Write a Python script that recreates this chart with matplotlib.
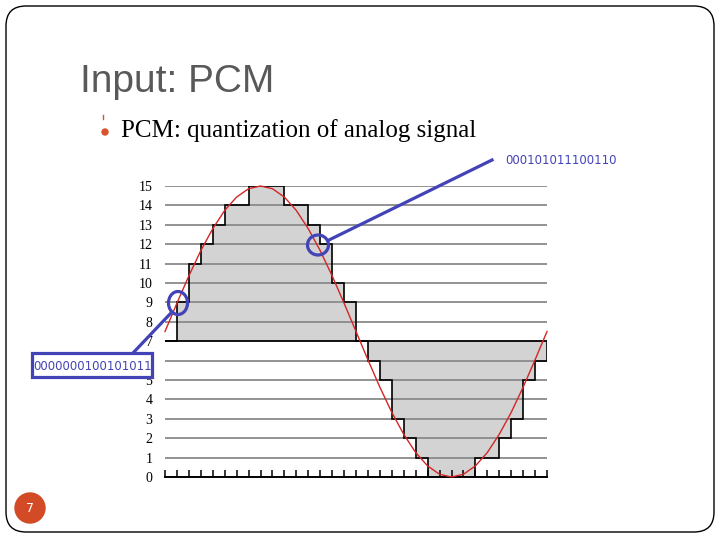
import numpy as np
import matplotlib.pyplot as plt
from matplotlib.patches import FancyBboxPatch, Circle, Ellipse, Rectangle
from matplotlib.lines import Line2D
from matplotlib.transforms import IdentityTransform

# quantization levels and sampled codes (one per sample interval)
levels = list(range(16))
codes = [7, 9, 11, 12, 13, 14, 14, 15, 15, 15, 14, 14, 13, 12, 10, 9,
         7, 6, 5, 3, 2, 1, 0, 0, 0, 0, 1, 1, 2, 3, 5, 6]
# analog signal read at each sample tick
analog = [7.5, 8.96, 10.37, 11.67, 12.8, 13.74, 14.43, 14.86, 15.0, 14.86,
          14.43, 13.74, 12.8, 11.67, 10.37, 8.96, 7.5, 6.04, 4.63, 3.33,
          2.2, 1.26, 0.57, 0.14, 0.0, 0.14, 0.57, 1.26, 2.2, 3.33, 4.63,
          6.04, 7.5]
code_a = "0000000100101011"
code_b = "000101011100110"
title = "Input: PCM"
subtitle = "PCM: quantization of analog signal"
slide_no = "7"

W, H = 720, 540
fig = plt.figure(figsize=(7.2, 5.4), dpi=100)
px = IdentityTransform()


def P(x, y):
    # image pixel coords (top-left origin) -> display coords
    return (x, H - y)


ax = fig.add_axes([165 / W, 63 / H, 382 / W, 291 / H])
edges = np.arange(len(codes) + 1)
ax.set_xlim(edges[0], edges[-1])
ax.set_ylim(0, 15)

ax.stairs(codes, edges, baseline=7, fill=True, color='#d3d3d3', zorder=1)
for lv in levels[1:]:
    ax.axhline(lv, color='black' if lv == 7 else '#8a8a8a', lw=1.3, zorder=2)
ax.stairs(codes, edges, baseline=7, color='black', lw=1.2, zorder=3)
ax.plot(np.arange(len(analog)), analog, color='#d42525', lw=1.0, zorder=4,
        clip_on=False)

for s in ['top', 'left', 'right']:
    ax.spines[s].set_visible(False)
ax.spines['bottom'].set_linewidth(1.4)
ax.set_xticks(edges)
ax.set_xticklabels([])
ax.tick_params(axis='x', direction='in', length=5, width=1.1)
ax.set_yticks(levels)
ax.set_yticklabels([str(v) for v in levels], fontfamily='Liberation Serif',
                   fontsize=10)
ax.tick_params(axis='y', length=0, pad=9)

# slide text
fig.text(80 / W, 1 - 82 / H, title, fontsize=28, color='#595959',
         family='Liberation Sans', va='center', ha='left')
fig.text(121 / W, 1 - 131 / H, subtitle, fontsize=18, color='black',
         family='Liberation Serif', va='center', ha='left')
fig.add_artist(Circle(P(105, 132), 3, transform=px, color='#d9532b'))
fig.add_artist(Line2D([103, 103], [H - 115, H - 119], transform=px,
                      color='#d9532b', lw=1))

# slide border and number
fig.add_artist(FancyBboxPatch(P(6, 532), 708, 526, transform=px,
                              boxstyle='round,pad=0,rounding_size=20',
                              fc='none', ec='black', lw=1))
fig.add_artist(Circle(P(30, 508), 15, transform=px, color='#d24a26'))
fig.text(30 / W, 1 - 508 / H, slide_no, color='white', fontsize=9,
         ha='center', va='center')

# blue callouts
blue = '#4343b8'
fig.add_artist(Ellipse(P(178, 303), 19, 23, transform=px, fc='none',
                       ec=blue, lw=2.3, zorder=5))
fig.add_artist(Ellipse(P(318, 245), 21, 20, transform=px, fc='none',
                       ec=blue, lw=2.3, zorder=5))
fig.add_artist(Line2D([170, 133], [H - 314, H - 353], transform=px,
                      color=blue, lw=2.3, zorder=5))
fig.add_artist(Line2D([329, 492], [H - 240, H - 160], transform=px,
                      color=blue, lw=2.3, zorder=5))
fig.add_artist(Rectangle(P(32, 377), 120, 24, transform=px, fc='white',
                         ec=blue, lw=2.3, zorder=5))
fig.text(33 / W, 1 - 366 / H, code_a, color=blue, fontsize=8.4, ha='left',
         va='center', zorder=6)
fig.text(505 / W, 1 - 161 / H, code_b, color=blue, fontsize=8.5, ha='left',
         va='center')

fig.savefig('out.png', dpi=100)
